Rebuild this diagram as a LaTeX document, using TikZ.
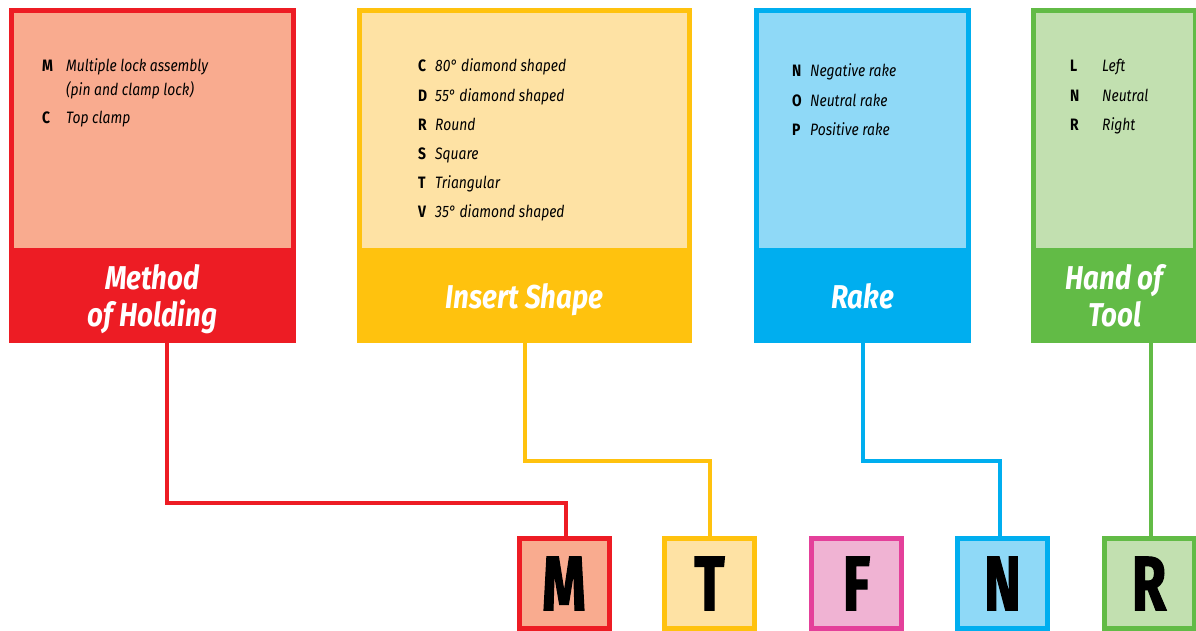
\documentclass[tikz,border=0pt]{standalone}
\usepackage{fontspec}
\setmainfont{Fira Sans}[FakeStretch=0.84]
\newfontfamily\heavyfont{Fira Sans}[FakeStretch=0.72,FakeBold=1.6]
\usepackage{tikz}
\usetikzlibrary{positioning}
\definecolor{cred}{HTML}{ED1C24}
\definecolor{lred}{HTML}{F9AB8F}
\definecolor{cyel}{HTML}{FFC20E}
\definecolor{lyel}{HTML}{FEE2A4}
\definecolor{cblue}{HTML}{00AEEF}
\definecolor{lblue}{HTML}{8FD9F7}
\definecolor{cgreen}{HTML}{62BB46}
\definecolor{lgreen}{HTML}{C2E0B0}
\definecolor{cpink}{HTML}{E4409A}
\definecolor{lpink}{HTML}{F0B3D3}
\tikzset{
  panel/.style={draw=#1, line width=5pt, minimum height=330pt},
  panelhead/.style={fill=#1, inner sep=0pt, outer sep=0pt, minimum height=95pt,
    text=white, text depth=-4pt, font=\fontsize{33}{37}\selectfont\bfseries\itshape, align=center},
  key/.style={anchor=base west, inner sep=0pt, font=\fontsize{16.5}{19}\selectfont\bfseries},
  desc/.style={anchor=base west, inner sep=0pt, font=\fontsize{16.5}{19}\selectfont\itshape, align=left},
  codebox/.style={draw=#1, line width=5pt, minimum width=90pt, minimum height=90pt,
    inner sep=0pt, text depth=0pt, font=\heavyfont\fontsize{77}{77}\selectfont\bfseries},
  link/.style={draw=#1, line width=4pt}
}
\begin{document}
\begin{tikzpicture}[x=1pt,y=-1pt]
\useasboundingbox (0,0) rectangle (1196,631);

% panels
\node[panel=cred, fill=lred, minimum width=282pt] (hold) at (152.5,175.5) {};
\node[panelhead=cred, minimum width=287pt, anchor=south] (holdhead) at (hold.south)
  {Method\\of Holding};

\node[panel=cyel, fill=lyel, minimum width=330pt] (shape) at (524.5,175.5) {};
\node[panelhead=cyel, minimum width=335pt, anchor=south] (shapehead) at (shape.south)
  {Insert Shape};

\node[panel=cblue, fill=lblue, minimum width=212pt] (rake) at (862.5,175.5) {};
\node[panelhead=cblue, minimum width=217pt, anchor=south] (rakehead) at (rake.south)
  {Rake};

\node[panel=cgreen, fill=lgreen, minimum width=162pt] (hand) at (1114.5,175.5) {};
\node[panelhead=cgreen, minimum width=167pt, anchor=south] (handhead) at (hand.south)
  {Hand of\\Tool};

% panel entries
\node[key] (hold-k1) at (42,72) {M};
\node[desc] (hold-d1) at (66,72) {Multiple lock assembly};
\node[desc] (hold-d1b) at (66,95.5) {(pin and clamp lock)};
\node[key] (hold-k2) at (42,124) {C};
\node[desc] (hold-d2) at (66,124) {Top clamp};

\foreach \k/\t [count=\i] in {C/80° diamond shaped, D/55° diamond shaped, R/Round,
    S/Square, T/Triangular, V/35° diamond shaped} {
  \node[key] (shape-k\i) at (418,72+29.2*\i-29.2) {\k};
  \node[desc] (shape-d\i) at (435,72+29.2*\i-29.2) {\t};
}

\foreach \k/\t [count=\i] in {N/Negative rake, O/Neutral rake, P/Positive rake} {
  \node[key] (rake-k\i) at (792,77+29.2*\i-29.2) {\k};
  \node[desc] (rake-d\i) at (810,77+29.2*\i-29.2) {\t};
}

\foreach \k/\t [count=\i] in {L/Left, N/Neutral, R/Right} {
  \node[key] (hand-k\i) at (1070,72+29.2*\i-29.2) {\k};
  \node[desc] (hand-d\i) at (1102,72+29.2*\i-29.2) {\t};
}

% code letters
\node[codebox=cred, fill=lred] (m) at (564,583.5) {M};
\node[codebox=cyel, fill=lyel] (t) at (709.5,583.5) {T};
\node[codebox=cpink, fill=lpink] (f) at (856.5,583.5) {F};
\node[codebox=cblue, fill=lblue] (n) at (1002.5,583.5) {N};
\node[codebox=cgreen, fill=lgreen] (r) at (1149,583.5) {R};

% connectors
\draw[link=cred] ([xshift=14.5pt]holdhead.south) -- ++(0,160) -| ([xshift=2pt]m.north);
\draw[link=cyel] (shapehead.south) -- ++(0,118) -| (t.north);
\draw[link=cblue] ([xshift=0.5pt]rakehead.south) -- ++(0,118) -| ([xshift=-2.5pt]n.north);
\draw[link=cgreen] ([xshift=36.5pt]handhead.south) -- ([xshift=2pt]r.north);
\end{tikzpicture}
\end{document}
